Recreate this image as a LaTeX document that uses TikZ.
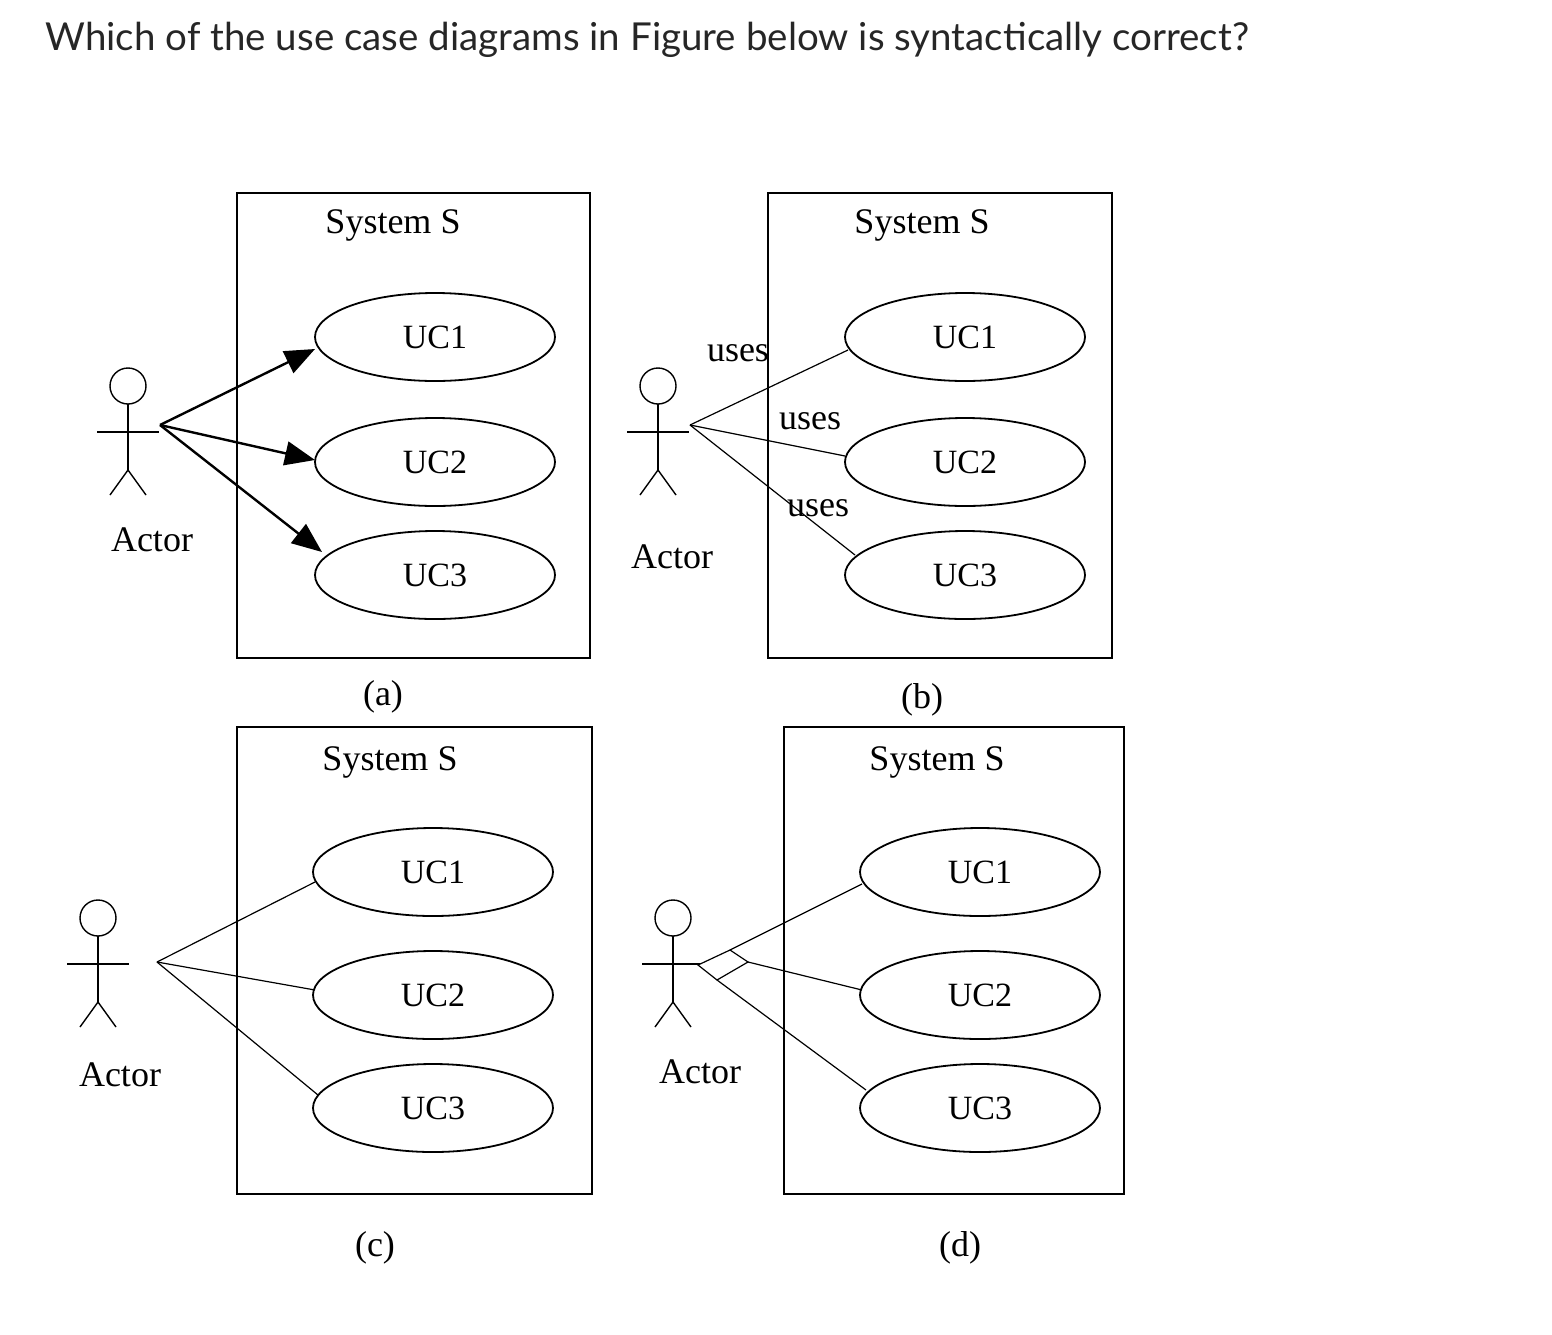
\documentclass[tikz,border=0pt]{standalone}
\usepackage{fontspec}
\setmainfont{Liberation Serif}
\newfontfamily\latofont{Lato}
\usetikzlibrary{arrows.meta,shapes.geometric}
\begin{document}
\begin{tikzpicture}[x=1pt,y=-1pt,
 sysbox/.style={draw,line width=2pt},
 uc/.style={draw,ellipse,line width=1.8pt,minimum width=240pt,minimum height=88pt,font=\fontsize{34}{38}\selectfont},
 lbl/.style={font=\fontsize{36}{40}\selectfont},
 ln/.style={line width=1.2pt},
 arr/.style={line width=2.4pt,-{Triangle[length=30pt,width=24pt]}},
 act/.style={line width=1.4pt}]
\useasboundingbox (0,0) rectangle (1552,1334);
\node[anchor=west,font=\latofont\fontsize{38.5}{44}\selectfont,text=black!85] (title) at (42,40) {Which of the use case diagrams in Figure below is syntactically correct?};
\newcommand{\myactor}[3]{%
 \draw[act] (#1,#2) circle (18);
 \draw[act] (#1,#2+18) -- (#1,#2+84);
 \draw[act] (#1-31,#2+46) -- (#1+31,#2+46);
 \draw[act] (#1-18,#2+109) -- (#1,#2+84) -- (#1+18,#2+109);}
% (a)
\draw[sysbox] (237,193) rectangle (590,658);
\node[lbl] (sa) at (393,225) {System S};
\node[uc] (a1) at (435,337) {UC1};
\node[uc] (a2) at (435,462) {UC2};
\node[uc] (a3) at (435,575) {UC3};
\myactor{128}{386}{aa}
\coordinate (aa) at (160,425);
\coordinate (ae1) at (315,349);
\coordinate (ae2) at (315,460);
\coordinate (ae3) at (322,552);
\node[lbl] (aat) at (152,540) {Actor};
\draw[arr] (aa) -- (ae1);
\draw[arr] (aa) -- (ae2);
\draw[arr] (aa) -- (ae3);
\node[lbl] (la) at (383,697) {(a)};
% (b)
\draw[sysbox] (768,193) rectangle (1112,658);
\node[lbl] (sb) at (922,225) {System S};
\node[uc] (b1) at (965,337) {UC1};
\node[uc] (b2) at (965,462) {UC2};
\node[uc] (b3) at (965,575) {UC3};
\myactor{658}{386}{ba}
\coordinate (ba) at (690,425);
\coordinate (be1) at (848,350);
\coordinate (be2) at (845,456);
\coordinate (be3) at (855,555);
\node[lbl] (bat) at (672,557) {Actor};
\draw[ln] (ba) -- (be1);
\draw[ln] (ba) -- (be2);
\draw[ln] (ba) -- (be3);
\node[lbl] (u1) at (738,353) {uses};
\node[lbl] (u2) at (810,421) {uses};
\node[lbl] (u3) at (818,508) {uses};
\node[lbl] (lb) at (922,700) {(b)};
% (c)
\draw[sysbox] (237,727) rectangle (592,1194);
\node[lbl] (sc) at (390,762) {System S};
\node[uc] (c1) at (433,872) {UC1};
\node[uc] (c2) at (433,995) {UC2};
\node[uc] (c3) at (433,1108) {UC3};
\myactor{98}{918}{ca}
\coordinate (ca) at (157,962);
\coordinate (ce1) at (315,882);
\coordinate (ce2) at (315,990);
\coordinate (ce3) at (318,1095);
\node[lbl] (cat) at (120,1075) {Actor};
\draw[ln] (ca) -- (ce1);
\draw[ln] (ca) -- (ce2);
\draw[ln] (ca) -- (ce3);
\node[lbl] (lc) at (375,1248) {(c)};
% (d)
\draw[sysbox] (784,727) rectangle (1124,1194);
\node[lbl] (sd) at (937,762) {System S};
\node[uc] (d1) at (980,872) {UC1};
\node[uc] (d2) at (980,995) {UC2};
\node[uc] (d3) at (980,1108) {UC3};
\myactor{673}{918}{da}
\node[lbl] (dat) at (700,1072) {Actor};
\coordinate (dl) at (698,965);
\coordinate (dt) at (730,950);
\coordinate (dr) at (748,962);
\coordinate (db) at (717,980);
\coordinate (de1) at (862,884);
\coordinate (de2) at (862,990);
\coordinate (de3) at (866,1090);
\draw[ln] (dt) -- (de1);
\draw[ln] (dr) -- (de2);
\draw[ln] (db) -- (de3);
\draw[ln,fill=white] (dl) -- (dt) -- (dr) -- (db) -- cycle;
\node[lbl] (ld) at (960,1248) {(d)};
\end{tikzpicture}
\end{document}
